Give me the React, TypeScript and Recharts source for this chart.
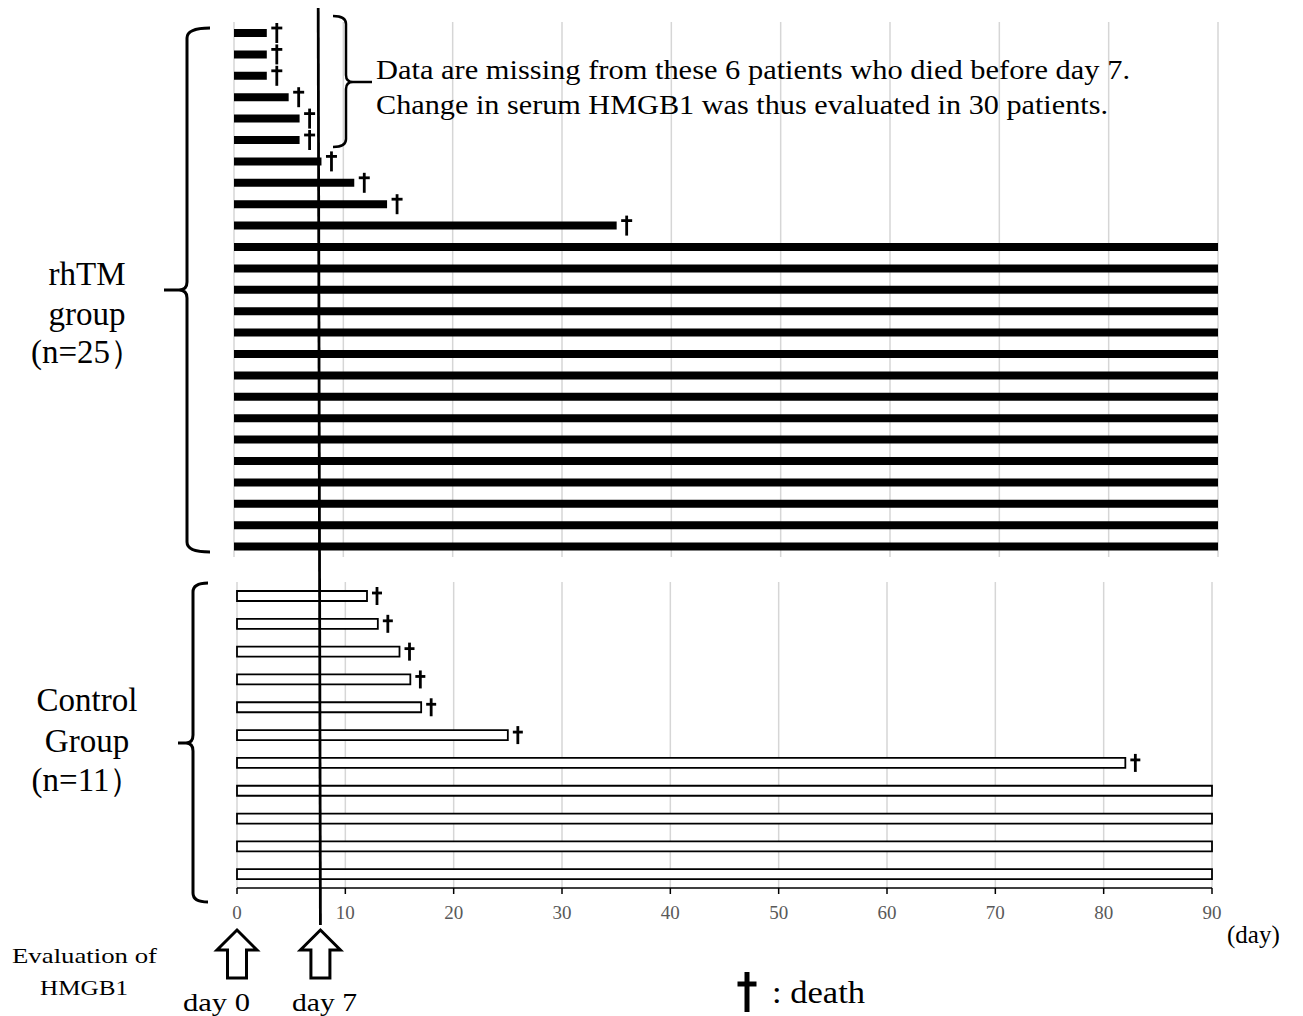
import React from "react";
import { BarChart, Bar, XAxis, YAxis, CartesianGrid, LabelList } from "recharts";

// ---- data ----
const dayTicks = [0, 10, 20, 30, 40, 50, 60, 70, 80, 90];
const rhtmDays = [3, 3, 3, 5, 6, 6, 8, 11, 14, 35, 90, 90, 90, 90, 90, 90, 90, 90, 90, 90, 90, 90, 90, 90, 90];
const rhtmDied = [1, 1, 1, 1, 1, 1, 1, 1, 1, 1, 0, 0, 0, 0, 0, 0, 0, 0, 0, 0, 0, 0, 0, 0, 0];
const controlDays = [12, 13, 15, 16, 17, 25, 82, 90, 90, 90, 90];
const controlDied = [1, 1, 1, 1, 1, 1, 1, 0, 0, 0, 0];
const controlBoundaries = [0, 1, 2, 3, 4, 5, 6, 7, 8, 9, 10, 11];
const evalDays = [0, 7.7];
const rhtmLabel = ["rhTM", "group", "(n=25）"];
const controlLabel = ["Control", "Group", "(n=11）"];
const noteLines = [
  "Data are missing from these 6 patients who died before day 7.",
  "Change in serum HMGB1 was thus evaluated in 30 patients.",
];

const rhtmRows = rhtmDays.map((d, i) => ({ id: `r${i + 1}`, days: d, died: rhtmDied[i] }));
const controlRows = controlDays.map((d, i) => ({ id: `c${i + 1}`, days: d, died: controlDied[i] }));

const SERIF = "'Liberation Serif', 'Times New Roman', serif";
const W = 1303;
const H = 1016;

// layout of the two panels (plot areas)
const TOP = { left: 234, right: 1218, top: 22, bottom: 557, h: 580 };
const BOT = { left: 237, right: 1212, top: 582, bottom: 888, offset: 560, h: 400 };
const xTop = (v: number) => TOP.left + (v / 90) * (TOP.right - TOP.left);
const xBot = (v: number) => BOT.left + (v / 90) * (BOT.right - BOT.left);

const Dagger = ({ cx, cy, half, cross, arm, sw }: any) => (
  <g stroke="#000" strokeWidth={sw}>
    <line x1={cx} y1={cy - half} x2={cx} y2={cy + half} />
    <line x1={cx - arm} y1={cy + cross} x2={cx + arm} y2={cy + cross} />
  </g>
);

const topDagger = (p: any) => {
  if (!p.value) return null;
  const cx = Number(p.x) + Number(p.width) + 10;
  const cy = Number(p.y) + Number(p.height) / 2;
  return <Dagger cx={cx} cy={cy} half={10} cross={-5} arm={5.5} sw={2.8} />;
};
const botDagger = (p: any) => {
  if (!p.value) return null;
  const cx = Number(p.x) + Number(p.width) + 10;
  const cy = Number(p.y) + Number(p.height) / 2;
  return <Dagger cx={cx} cy={cy} half={9} cross={-3} arm={5} sw={2.8} />;
};

const Arrow = ({ cx }: { cx: number }) => {
  const pts = [
    [cx, 930],
    [cx + 20, 950],
    [cx + 9.5, 950],
    [cx + 9.5, 978],
    [cx - 9.5, 978],
    [cx - 9.5, 950],
    [cx - 20, 950],
  ]
    .map((p) => p.join(","))
    .join(" ");
  return <polygon points={pts} fill="#fff" stroke="#000" strokeWidth={3} strokeLinejoin="miter" />;
};

export default function App() {
  const lineV = evalDays[1];
  return (
    <div style={{ position: "absolute", left: 0, top: 0, width: W, height: H, background: "#fff" }}>
      {/* top panel: rhTM group */}
      <div style={{ position: "absolute", left: 0, top: 0 }}>
        <BarChart
          width={W}
          height={TOP.h}
          data={rhtmRows}
          layout="vertical"
          margin={{ top: TOP.top, right: W - TOP.right, bottom: TOP.h - TOP.bottom, left: TOP.left }}
        >
          <CartesianGrid horizontal={false} stroke="#d6d6d6" strokeWidth={1.5} />
          <XAxis type="number" dataKey="days" domain={[0, 90]} ticks={dayTicks} hide />
          <YAxis type="category" dataKey="id" hide />
          <Bar dataKey="days" fill="#000" barSize={8} isAnimationActive={false}>
            <LabelList dataKey="died" content={topDagger} />
          </Bar>
        </BarChart>
      </div>

      {/* bottom panel: control group */}
      <div style={{ position: "absolute", left: 0, top: BOT.offset }}>
        <BarChart
          width={W}
          height={BOT.h}
          data={controlRows}
          layout="vertical"
          margin={{ top: BOT.top - BOT.offset, right: W - BOT.right, bottom: 42, left: BOT.left }}
        >
          <CartesianGrid horizontal={false} stroke="#d6d6d6" strokeWidth={1.5} />
          <XAxis
            type="number"
            dataKey="days"
            domain={[0, 90]}
            ticks={dayTicks}
            height={30}
            axisLine={{ stroke: "#000", strokeWidth: 1.5 }}
            tickLine={{ stroke: "#000", strokeWidth: 1.5 }}
            tickSize={6}
            tickMargin={12}
            tick={{ fill: "#595959", fontSize: 19, fontFamily: SERIF }}
          />
          <YAxis yAxisId="cat" type="category" dataKey="id" hide />
          <YAxis
            yAxisId="grid"
            type="number"
            domain={[0, 11]}
            ticks={controlBoundaries}
            width={0}
            axisLine={false}
            tickLine={{ stroke: "#bfbfbf", strokeWidth: 1.5 }}
            tickSize={5}
            tick={false}
          />
          <Bar
            yAxisId="cat"
            dataKey="days"
            fill="#fff"
            stroke="#000"
            strokeWidth={1.8}
            barSize={10}
            isAnimationActive={false}
          >
            <LabelList dataKey="died" content={botDagger} />
          </Bar>
        </BarChart>
      </div>

      {/* annotations overlay */}
      <svg
        width={W}
        height={H}
        style={{ position: "absolute", left: 0, top: 0, pointerEvents: "none" }}
        fontFamily={SERIF}
      >
        {/* day-7 evaluation line */}
        <line x1={xTop(lineV)} y1={8} x2={xBot(lineV)} y2={925} stroke="#000" strokeWidth={2.8} />

        {/* left braces */}
        <path
          d="M 210 28 Q 187 28 187 38 L 187 282 Q 187 290 179 290 L 164 290 M 179 290 Q 187 290 187 298 L 187 542 Q 187 552 210 552"
          fill="none"
          stroke="#000"
          strokeWidth={3}
        />
        <path
          d="M 208 583 Q 193 583 193 592 L 193 735 Q 193 743 186 743 L 178 743 M 186 743 Q 193 743 193 751 L 193 893 Q 193 902 208 902"
          fill="none"
          stroke="#000"
          strokeWidth={3}
        />
        {/* right brace near note */}
        <path
          d="M 333 16 Q 346 16 346 24 L 346 75 Q 346 82 353 82 L 372 82 M 353 82 Q 346 82 346 89 L 346 139 Q 346 147 333 147"
          fill="none"
          stroke="#000"
          strokeWidth={2.5}
        />

        {/* group labels */}
        {rhtmLabel.map((t, i) => (
          <text key={t} x={87} y={[285, 325, 363][i]} textAnchor="middle" fontSize={33} fill="#000">
            {t}
          </text>
        ))}
        {controlLabel.map((t, i) => (
          <text key={t} x={87} y={[711, 752, 791][i]} textAnchor="middle" fontSize={33} fill="#000">
            {t}
          </text>
        ))}

        {/* note */}
        <text x={376} y={79} fontSize={27} fill="#000" textLength={754} lengthAdjust="spacingAndGlyphs">
          {noteLines[0]}
        </text>
        <text x={376} y={114} fontSize={27} fill="#000" textLength={732} lengthAdjust="spacingAndGlyphs">
          {noteLines[1]}
        </text>

        {/* axis unit */}
        <text x={1227} y={943} fontSize={25} fill="#000">
          (day)
        </text>

        {/* evaluation arrows */}
        <text x={12} y={963} fontSize={22} fill="#000" textLength={145} lengthAdjust="spacingAndGlyphs">
          Evaluation of
        </text>
        <text x={40} y={995} fontSize={22} fill="#000" textLength={88} lengthAdjust="spacingAndGlyphs">
          HMGB1
        </text>
        {evalDays.map((d) => (
          <Arrow key={d} cx={xBot(d)} />
        ))}
        <text x={183} y={1011} fontSize={25} fill="#000" textLength={67} lengthAdjust="spacingAndGlyphs">
          day 0
        </text>
        <text x={292} y={1011} fontSize={25} fill="#000" textLength={65} lengthAdjust="spacingAndGlyphs">
          day 7
        </text>

        {/* legend */}
        <Dagger cx={747} cy={992} half={20} cross={-8} arm={9.5} sw={5} />
        <text x={772} y={1003} fontSize={31} fill="#000" textLength={93} lengthAdjust="spacingAndGlyphs">
          : death
        </text>
      </svg>
    </div>
  );
}
